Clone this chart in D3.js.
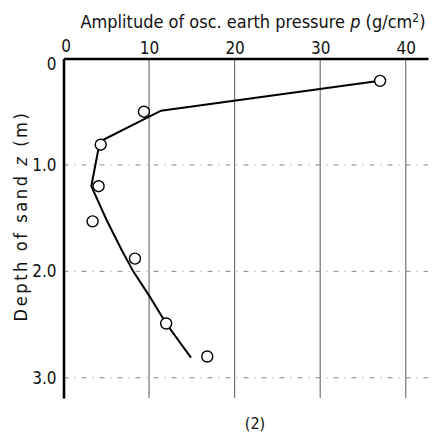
<!DOCTYPE html>
<html>
<head>
<meta charset="utf-8">
<script src="https://cdn.jsdelivr.net/npm/d3@7"></script>
<style>
  html, body { margin: 0; padding: 0; background: #fff; }
  svg { display: block; }
  text { font-family: "Liberation Sans Narrow", "DejaVu Sans Condensed", "Liberation Sans", Arial, sans-serif; font-weight: normal; fill: #111; }
</style>
</head>
<body>
<div id="chart"></div>
<script>
// ---- data ----
const xTicks = [0, 10, 20, 30, 40];
const yTicks = [0, 1, 2, 3];
const yTickLabels = ["0", "1.0", "2.0", "3.0"];
// measured points: amplitude p (g/cm2) and depth z (m)
const pointP = [37.0, 9.4, 4.35, 4.1, 3.4, 8.35, 12.0, 16.8];
const pointZ = [0.21, 0.50, 0.81, 1.20, 1.53, 1.88, 2.49, 2.80];
// fitted curve vertices
const curveP = [37.0, 11.4, 4.25, 3.25, 5.05, 6.8, 8.15, 10.1, 12.0, 14.9];
const curveZ = [0.21, 0.49, 0.78, 1.20, 1.52, 1.80, 2.00, 2.24, 2.49, 2.81];

const W = 440, H = 440;
const svg = d3.select("#chart").append("svg").attr("width", W).attr("height", H);

const x = d3.scaleLinear().domain([0, 42.6]).range([63.5, 428]);
const y = d3.scaleLinear().domain([0, 3.19]).range([58.5, 398]);

const FONT = "'Liberation Sans Narrow','DejaVu Sans Condensed','Liberation Sans',sans-serif";

// grid lines
svg.append("g").selectAll("line").data(xTicks.filter(d => d > 0)).join("line")
  .attr("x1", d => x(d)).attr("x2", d => x(d))
  .attr("y1", y(0)).attr("y2", y(3.19))
  .attr("stroke", "#666").attr("stroke-width", 1.1);
svg.append("g").selectAll("line").data(yTicks.filter(d => d > 0)).join("line")
  .attr("x1", x(0)).attr("x2", x(42.6))
  .attr("y1", d => y(d)).attr("y2", d => y(d))
  .attr("stroke", "#888").attr("stroke-width", 1)
  .attr("stroke-dasharray", "5,6,1,6");

// axes
const gx = svg.append("g").attr("transform", `translate(0,${y(0)})`)
  .call(d3.axisTop(x).tickValues(xTicks).tickSize(0).tickPadding(5).tickFormat(d => d));
gx.select(".domain").attr("stroke", "#000").attr("stroke-width", 2.6);
gx.selectAll("text").attr("font-size", 17).attr("fill", "#222")
  .attr("font-family", FONT).attr("font-weight", "normal");
gx.selectAll(".tick").filter(d => d === 0).select("text").attr("dx", 2).attr("dy", -2);

const gy = svg.append("g").attr("transform", `translate(${x(0)},0)`)
  .call(d3.axisLeft(y).tickValues(yTicks).tickSize(0).tickPadding(7).tickFormat((d, i) => yTickLabels[i]));
gy.select(".domain").attr("stroke", "#000").attr("stroke-width", 2.6);
gy.selectAll("text").attr("font-size", 17).attr("fill", "#222")
  .attr("font-family", FONT).attr("font-weight", "normal");
gy.selectAll(".tick").filter(d => d === 0).select("text").attr("dy", "0.65em");

// curve
const curveData = curveP.map((p, i) => [p, curveZ[i]]);
svg.append("path").datum(curveData)
  .attr("d", d3.line().x(d => x(d[0])).y(d => y(d[1])).curve(d3.curveLinear))
  .attr("fill", "none").attr("stroke", "#000").attr("stroke-width", 2);

// points
const pts = pointP.map((p, i) => [p, pointZ[i]]);
svg.append("g").selectAll("circle").data(pts).join("circle")
  .attr("cx", d => x(d[0])).attr("cy", d => y(d[1])).attr("r", 5.5)
  .attr("fill", "#fff").attr("stroke", "#000").attr("stroke-width", 1.4);

// titles
const t = svg.append("text").attr("x", 253).attr("y", 28).attr("text-anchor", "middle")
  .attr("font-size", 18).attr("fill", "#222");
t.append("tspan").text("Amplitude of osc. earth pressure ");
t.append("tspan").attr("font-style", "italic").text("p");
t.append("tspan").text(" (g/cm");
t.append("tspan").attr("font-size", 12).attr("dy", -6).text("2");
t.append("tspan").attr("dy", 6).text(")");

const yt = svg.append("text").attr("transform", "translate(27,216) rotate(-90)")
  .attr("text-anchor", "middle").attr("font-size", 18).attr("fill", "#222")
  .attr("letter-spacing", "2.6px");
yt.append("tspan").text("Depth of sand ");
yt.append("tspan").attr("font-style", "italic").text("z");
yt.append("tspan").text(" (m)");

svg.append("text").attr("x", 255).attr("y", 429).attr("text-anchor", "middle")
  .attr("font-size", 16).attr("fill", "#666").text("(2)");
</script>
</body>
</html>
